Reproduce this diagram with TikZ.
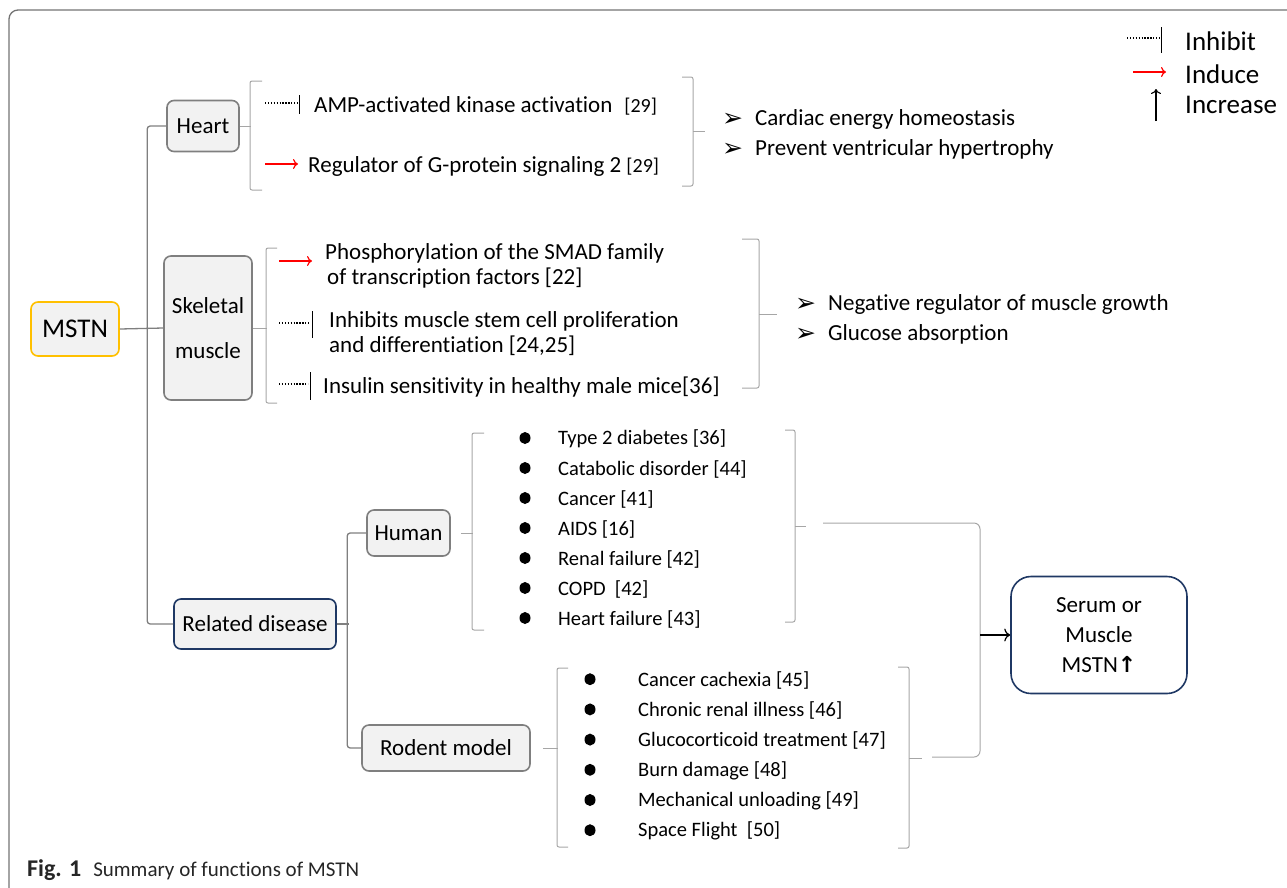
\documentclass[tikz,border=0pt]{standalone}
\usepackage{fontspec}
\setmainfont{Carlito}[Ligatures=NoCommon]
\newfontfamily\symfont{DejaVu Sans}
\usetikzlibrary{arrows.meta, positioning}

\definecolor{boxfill}{HTML}{F2F2F2}
\definecolor{boxline}{HTML}{7F7F7F}
\definecolor{braceline}{HTML}{A6A6A6}
\definecolor{gold}{HTML}{FFC000}
\definecolor{navy}{HTML}{1F3864}

\newcommand{\arrowbullet}{\makebox[33pt][l]{\raisebox{-1pt}{\symfont\fontsize{25}{25}\selectfont ➢}}}

\begin{document}
\begin{tikzpicture}[x=1pt, y=-1pt,
    box/.style = {draw=boxline, line width=1.6pt, fill=boxfill, rounded corners=7pt, align=center, inner sep=0pt, font=\fontsize{23}{27}\selectfont},
    func/.style = {anchor=west, inner sep=0pt, align=left, font=\fontsize{23}{25}\selectfont},
    dis/.style = {anchor=west, inner sep=0pt, font=\fontsize{20.5}{24}\selectfont},
    legend/.style = {anchor=west, inner sep=0pt, font=\fontsize{27}{30}\selectfont},
    tree/.style = {draw=boxline, line width=1.3pt, rounded corners=3pt},
    brace/.style = {draw=braceline, line width=1pt, rounded corners=2pt},
    inhibit/.style = {dash pattern=on 1.3pt off 1.6pt, line width=1.3pt},
    induce/.style = {red, line width=1.2pt, -{To[length=5pt, width=10pt]}}]

    \useasboundingbox (0,0) rectangle (1287,887);
    % Frame
    \draw [black!55, line width=1.3pt, rounded corners=9pt] (1300,10) -- (9,10) -- (9,900);

    % Legend
    \node (inh) [legend] at (1185,41) {Inhibit};
    \node (ind) [legend] at (1185,74) {Induce};
    \node (inc) [legend] at (1185,105) {Increase};
    \draw [inhibit] (1127,38) -- (1160,38);
    \draw [line width=0.8pt] (1161,27) -- (1161,53);
    \draw [induce] (1133,72) -- (1166,72);
    \draw [line width=1.1pt, -{To[length=5pt, width=10pt]}] (1156,121) -- (1156,89);

    % Main boxes
    \node (mstn) [box, draw=gold, minimum width=88, minimum height=54, font=\fontsize{27}{30}\selectfont] at (75,329) {MSTN};
    \node (heart) [box, minimum width=72, minimum height=51] at (203,126) {Heart};
    \node (skeletal) [box, minimum width=88, minimum height=144, font=\fontsize{23}{45}\selectfont] at (208,328) {Skeletal\\muscle};
    \node (related) [box, draw=navy, minimum width=162, minimum height=50] at (255,624) {Related disease};
    \node (human) [box, minimum width=83, minimum height=46] at (408.5,533) {Human};
    \node (rodent) [box, minimum width=168, minimum height=46] at (446,748) {Rodent model};
    \node (serum) [box, draw=navy, fill=white, rounded corners=20pt, minimum width=176, minimum height=117, font=\fontsize{23}{30}\selectfont] at (1099,635) {Serum or\\Muscle\\MSTN{\symfont\bfseries\fontsize{22}{22}\selectfont↑}};

    % Tree lines
    \draw [tree] (mstn.east) -- (skeletal.west);
    \draw [tree] (heart.west) -- ++(-19,0) |- (related.west);
    \draw [tree] (related.east) -- ++(12,0);
    \draw [tree] (human.west) -- ++(-19,0) |- (rodent.west);

    % Heart
    \draw [brace] (heart.east) -- ++(11,0);
    \draw [brace] (262,81) -- (250,81) -- (250,190) -- (262,190);
    \node (amp) [func] at (314,106) {AMP-activated kinase activation\hspace{12pt}{\fontsize{20}{24}\selectfont[29]}};
    \node (rgs) [func] at (308,166) {Regulator of G-protein signaling 2 {\fontsize{20}{24}\selectfont[29]}};
    \draw [inhibit] (265,103) -- (297,103);
    \draw [line width=0.8pt] (299,95) -- (299,114);
    \draw [induce] (265,164) -- (298,164);
    \draw [brace] (682,77) -- (693,77) -- (693,186) -- (682,186);
    \draw [brace] (693,131) -- (705,131);
    \node (cardiac) [func] at (722,119) {\arrowbullet Cardiac energy homeostasis};
    \node (prevent) [func] at (722,149) {\arrowbullet Prevent ventricular hypertrophy};

    % Skeletal muscle
    \draw [brace] (skeletal.east) -- ++(14,0);
    \draw [brace] (277,248) -- (266,248) -- (266,403) -- (277,403);
    \node (smad) [func] at (325,266) {Phosphorylation of the SMAD family\\\hspace{2pt}of transcription factors [22]};
    \node (stem) [func] at (329,333.5) {Inhibits muscle stem cell proliferation\\and differentiation [24,25]};
    \node (insulin) [func] at (323,387) {Insulin sensitivity in healthy male mice[36]};
    \draw [induce] (279,261) -- (312,261);
    \draw [inhibit] (279,323) -- (310,323);
    \draw [line width=0.8pt] (312,311) -- (312,338);
    \draw [inhibit] (279,384) -- (308,384);
    \draw [line width=0.8pt] (310,372) -- (310,400);
    \draw [brace] (742,239) -- (759,239) -- (759,388) -- (742,388);
    \draw [brace] (759,314) -- (777,314);
    \node (growth) [func] at (795,304) {\arrowbullet Negative regulator of muscle growth};
    \node (glucose) [func] at (795,334) {\arrowbullet Glucose absorption};

    % Human
    \draw [brace, shorten <=10pt] (human.east) -- ++(22,0);
    \draw [brace] (484,433) -- (472,433) -- (472,630) -- (484,630);
    \foreach \dname [count=\i] in {{Type 2 diabetes [36]}, {Catabolic disorder [44]}, {Cancer [41]}, {AIDS [16]}, {Renal failure [42]}, {COPD\ \ [42]}, {Heart failure [43]}}
    {
        \fill (525,408+30*\i) ellipse [x radius=5.5pt, y radius=6pt];
        \node (hum\i) [dis] at (558,409+30*\i) {\dname};
    }
    \draw [brace] (785,430) -- (795,430) -- (795,622) -- (785,622);
    \draw [brace] (795,526) -- (806,526);

    % Rodent model
    \draw [brace, shorten <=12pt] (rodent.east) -- ++(27,0);
    \draw [brace] (568,668) -- (557,668) -- (557,847) -- (568,847);
    \foreach \dname [count=\i] in {{Cancer cachexia [45]}, {Chronic renal illness [46]}, {Glucocorticoid treatment [47]}, {Burn damage [48]}, {Mechanical unloading [49]}, {Space Flight\ \ [50]}}
    {
        \fill (590,649+30.2*\i) ellipse [x radius=5.5pt, y radius=6pt];
        \node (rod\i) [dis] at (638,650+30.2*\i) {\dname};
    }
    \draw [brace] (898,667) -- (909,667) -- (909,848) -- (898,848);
    \draw [brace] (909,758) -- (922,758);

    % Join to serum
    \draw [brace, rounded corners=6pt] (823,523) -- (980,523) -- (980,757) -- (932,757);
    \coordinate (join) at (980,635);
    \draw [line width=1.2pt, -{To[length=6pt, width=13pt]}] (join) -- (serum.west);

    % Caption
    \node (caption) [anchor=west, inner sep=0pt, font=\fontsize{21}{24}\selectfont, text=black!85] at (27,870) {{\fontsize{24}{26}\selectfont\textbf{Fig. 1}}\hspace{12pt}Summary of functions of MSTN};
\end{tikzpicture}
\end{document}
